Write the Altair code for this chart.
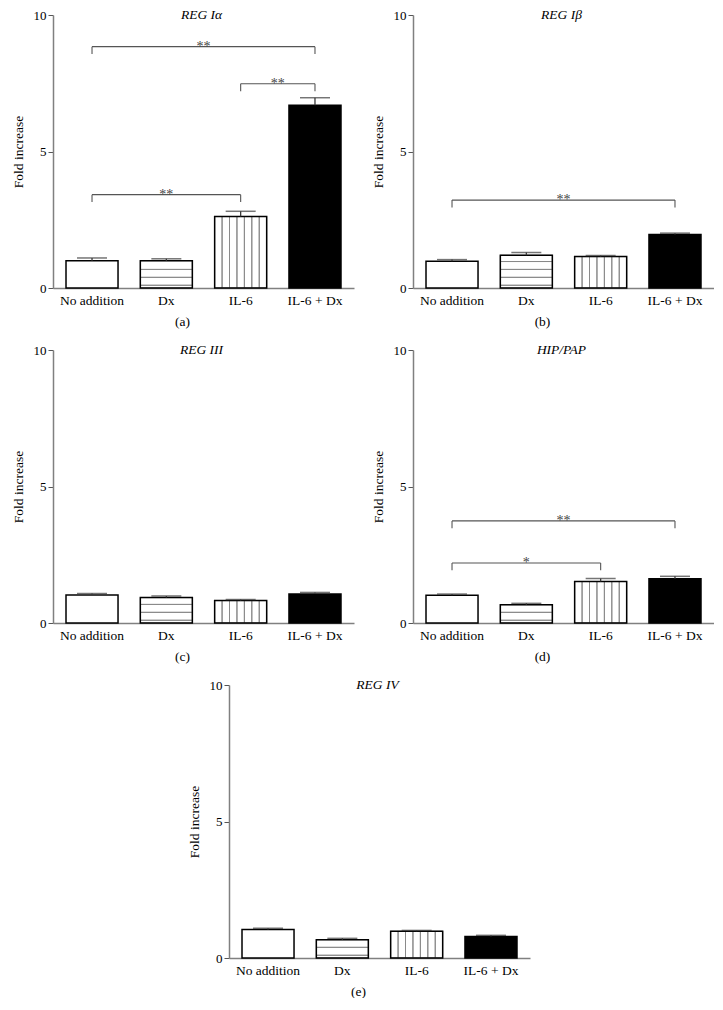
import altair as alt
import pandas as pd

CATEGORIES = ["No addition", "Dx", "IL-6", "IL-6 + Dx"]
FILLS = ["white", "white", "white", "black"]

TITLES = ["REG Iα", "REG Iβ", "REG III", "HIP/PAP", "REG IV"]
LETTERS = ["(a)", "(b)", "(c)", "(d)", "(e)"]

MEAN_A = [1.0, 1.0, 2.62, 6.69]
ERR_A = [0.1, 0.07, 0.19, 0.28]
MEAN_B = [0.98, 1.2, 1.15, 1.96]
ERR_B = [0.06, 0.1, 0.04, 0.05]
MEAN_C = [1.03, 0.93, 0.82, 1.06]
ERR_C = [0.05, 0.06, 0.04, 0.06]
MEAN_D = [1.02, 0.67, 1.52, 1.62]
ERR_D = [0.04, 0.05, 0.11, 0.09]
MEAN_E = [1.04, 0.67, 0.98, 0.79]
ERR_E = [0.05, 0.05, 0.03, 0.04]

# significance brackets: (from index, to index, height, label)
BRACKETS_A = [(0, 3, 8.84, "**"), (2, 3, 7.48, "**"), (0, 2, 3.42, "**")]
BRACKETS_B = [(0, 3, 3.22, "**")]
BRACKETS_C = []
BRACKETS_D = [(0, 3, 3.74, "**"), (0, 2, 2.2, "*")]
BRACKETS_E = []

# pattern levels (styling of the hatched bars)
HSTRIPES = [0.1, 0.39, 0.68, 0.97, 1.26, 1.55]
N_VSTRIPES = 7
BRACKET_DROP = 0.27
Y_TICKS = [0, 5, 10]

SERIF = "Liberation Serif"
PAD_INNER = 0.3
PAD_OUTER = 0.175

W, H = 301, 273
STEP = W / (len(CATEGORIES) - PAD_INNER + 2 * PAD_OUTER)
HALF_GAP = STEP * PAD_INNER / 2

XSCALE = alt.Scale(domain=CATEGORIES, paddingInner=PAD_INNER, paddingOuter=PAD_OUTER)
XAXIS = alt.Axis(title=None, labelAngle=0, ticks=False, labelPadding=5,
                 domainColor="#808080", domainWidth=1.5, labelFont=SERIF,
                 labelFontSize=13.5, labelColor="black", grid=False)
YSCALE = alt.Scale(domain=[0, 10], nice=False, zero=True)
YAXIS = alt.Axis(title="Fold increase", values=Y_TICKS, grid=False, tickSize=5,
                 tickColor="#555555", tickWidth=1, domainColor="#808080",
                 domainWidth=1.5, labelFont=SERIF, labelFontSize=13,
                 labelColor="black", labelPadding=2, titleFont=SERIF,
                 titleFontSize=13.5, titleFontWeight="normal", titleColor="black",
                 titlePadding=8)


def X(field, **kw):
    return alt.X(field + ":N", scale=XSCALE, axis=XAXIS, **kw)


def Y(field):
    return alt.Y(field + ":Q", scale=YSCALE, axis=YAXIS)


def panel(title, letter, means, errs, brackets):
    bars = pd.DataFrame({
        "cat": CATEGORIES,
        "mean": means,
        "top": [m + e for m, e in zip(means, errs)],
        "fill": FILLS,
    })

    # Dx: horizontal hatching as stacked segments
    dx_mean = means[1]
    levels = [0] + [l for l in HSTRIPES if l < dx_mean - 0.1] + [dx_mean]
    hseg = pd.DataFrame({
        "cat": ["Dx"] * (len(levels) - 1),
        "lo": levels[:-1],
        "hi": levels[1:],
    })
    # IL-6: vertical hatching as side-by-side sub-bars
    vseg = pd.DataFrame({
        "cat": ["IL-6"] * N_VSTRIPES,
        "k": list(range(N_VSTRIPES)),
        "mean": [means[2]] * N_VSTRIPES,
    })

    base = alt.Chart(bars).mark_bar(strokeWidth=0).encode(
        x=X("cat"), y=Y("mean"), fill=alt.Fill("fill:N", scale=None))
    hl = alt.Chart(hseg).mark_bar(fillOpacity=0, stroke="#8a8a8a", strokeWidth=1).encode(
        x=X("cat"), y=Y("lo"), y2="hi")
    vl = alt.Chart(vseg).mark_bar(fillOpacity=0, stroke="#8a8a8a", strokeWidth=1).encode(
        x=X("cat"), xOffset=alt.XOffset("k:O"), y=Y("mean"))
    outline = alt.Chart(bars).mark_bar(fillOpacity=0, stroke="black", strokeWidth=1.5).encode(
        x=X("cat"), y=Y("mean"))
    err = alt.Chart(bars).mark_rule(color="#3a3a3a", strokeWidth=1.3).encode(
        x=X("cat"), y=Y("mean"), y2="top")
    cap = alt.Chart(bars).mark_tick(color="#3a3a3a", size=30, thickness=1.5).encode(
        x=X("cat"), y=Y("top"))

    ttl = alt.Chart(pd.DataFrame({"t": [title], "cat": ["Dx"], "v": [10]})).mark_text(
        font=SERIF, fontSize=13.5, fontStyle="italic", baseline="middle", color="black",
        dx=HALF_GAP - 2
    ).encode(x=X("cat", bandPosition=1), y=Y("v"), text="t:N")

    layers = [base, hl, vl, outline, err, cap, ttl]

    if brackets:
        br = pd.DataFrame({
            "c1": [CATEGORIES[b[0]] for b in brackets],
            "c2": [CATEGORIES[b[1]] for b in brackets],
            "h": [b[2] for b in brackets],
            "label": [b[3] for b in brackets],
            "mid": [CATEGORIES[(b[0] + b[1]) // 2] for b in brackets],
            "odd": [(b[0] + b[1]) % 2 for b in brackets],
        })
        ends = pd.DataFrame({
            "end": [CATEGORIES[b[0]] for b in brackets] + [CATEGORIES[b[1]] for b in brackets],
            "h": [b[2] for b in brackets] * 2,
            "lo": [b[2] - BRACKET_DROP for b in brackets] * 2,
        })
        hline = alt.Chart(br).mark_rule(color="#555555", strokeWidth=1.1).encode(
            x=X("c1"), x2="c2", y=Y("h"))
        vline = alt.Chart(ends).mark_rule(color="#555555", strokeWidth=1.1).encode(
            x=X("end"), y=Y("h"), y2="lo")
        layers += [hline, vline]
        even = br[br["odd"] == 0]
        odd = br[br["odd"] == 1]
        star_kw = dict(font=SERIF, fontSize=14, color="#444444", baseline="alphabetic",
                       dy=4)
        if len(even):
            layers.append(alt.Chart(even).mark_text(**star_kw).encode(
                x=X("mid", bandPosition=0.5), y=Y("h"), text="label:N"))
        if len(odd):
            layers.append(alt.Chart(odd).mark_text(dx=HALF_GAP, **star_kw).encode(
                x=X("mid", bandPosition=1), y=Y("h"), text="label:N"))

    return alt.layer(*layers).properties(
        width=W, height=H,
        title=alt.TitleParams(letter, orient="bottom", anchor="middle", frame="bounds",
                              font=SERIF, fontSize=13.5, fontWeight="normal",
                              color="black", offset=8),
    )


pa = panel(TITLES[0], LETTERS[0], MEAN_A, ERR_A, BRACKETS_A)
pb = panel(TITLES[1], LETTERS[1], MEAN_B, ERR_B, BRACKETS_B)
pc = panel(TITLES[2], LETTERS[2], MEAN_C, ERR_C, BRACKETS_C)
pd_ = panel(TITLES[3], LETTERS[3], MEAN_D, ERR_D, BRACKETS_D)
pe = panel(TITLES[4], LETTERS[4], MEAN_E, ERR_E, BRACKETS_E)

# invisible spacer that shifts panel (e) to the middle of the page
spacer = alt.Chart(pd.DataFrame({"v": [0]})).mark_point(opacity=0, size=1).encode(
    x=alt.X("v:Q", axis=None), y=alt.Y("v:Q", axis=None)
).properties(width=134, height=10)

row1 = alt.hconcat(pa, pb, spacing=17)
row2 = alt.hconcat(pc, pd_, spacing=17)
row3 = alt.hconcat(spacer, pe, spacing=0)

chart = alt.vconcat(row1, row2, row3, spacing=15).properties(
    padding={"left": 3, "top": 0, "right": 0, "bottom": 0},
    background="white",
).configure_view(strokeWidth=0)

chart.save("out.html", embed_options={"renderer": "svg", "actions": False})
